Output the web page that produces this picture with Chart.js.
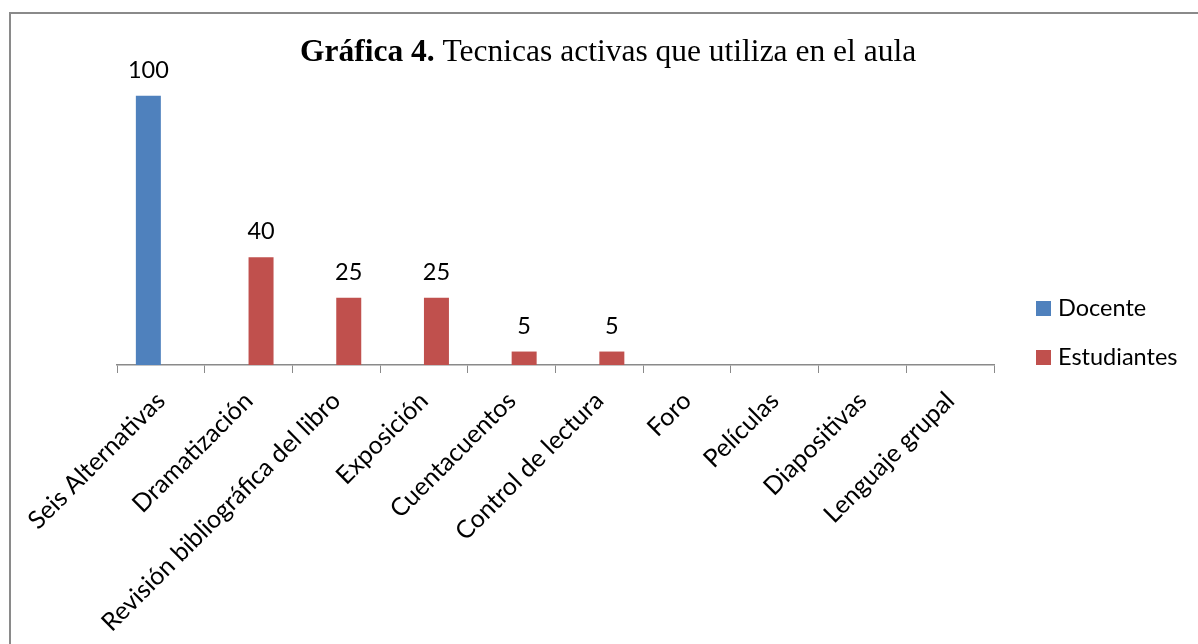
<!DOCTYPE html>
<html>
<head>
<meta charset="utf-8">
<script src="https://cdn.jsdelivr.net/npm/chart.js@4/dist/chart.umd.min.js"></script>
<style>
	html, body { margin:0; padding:0; background:#fff; overflow:hidden; }
	#wrap { position:relative; width:1198px; height:644px; }
	#marco { position:absolute; left:9px; top:12px; width:1300px; height:800px; border:2px solid #8a8a8a; pointer-events:none; }
</style>
</head>
<body>
<div id="wrap">
	<canvas id="chart" width="1198" height="644"></canvas>
	<div id="marco"></div>
</div>
<script>
var categorias = ['Seis Alternativas', 'Dramatización', 'Revisión bibliográfica del libro', 'Exposición', 'Cuentacuentos', 'Control de lectura', 'Foro', 'Películas', 'Diapositivas', 'Lenguaje grupal'];
var docente = [100, null, null, null, null, null, null, null, null, null];
var estudiantes = [null, 40, 25, 25, 5, 5, null, null, null, null];
var series = ['Docente', 'Estudiantes'];
var colores = ['#4F81BD', '#C0504D'];

var fuente = 'Lato, "Open Sans", sans-serif';

//etiquetas de valor, titulo y leyenda
var extras = {
	id: 'extras',
	afterDatasetsDraw: function (chart) {
		var ctx = chart.ctx;
		ctx.save();
		ctx.fillStyle = '#000';
		ctx.font = '23.5px ' + fuente;
		ctx.textAlign = 'center';
		ctx.textBaseline = 'alphabetic';
		chart.data.datasets.forEach(function (ds, i) {
			var meta = chart.getDatasetMeta(i);
			meta.data.forEach(function (el, j) {
				if (ds.data[j] === null) return;
				ctx.fillText(ds.data[j], el.x, el.y - 18);
			});
		});

		//titulo
		ctx.textAlign = 'left';
		ctx.font = 'bold 31.5px "Liberation Serif", "Times New Roman", serif';
		var parte1 = 'Gráfica 4.';
		ctx.fillText(parte1, 300, 61);
		var w = ctx.measureText(parte1 + ' ').width;
		ctx.font = '31.5px "Liberation Serif", "Times New Roman", serif';
		ctx.fillText('Tecnicas activas que utiliza en el aula', 300 + w, 61);

		//leyenda
		ctx.font = '23.5px ' + fuente;
		chart.data.datasets.forEach(function (ds, i) {
			var y = 316 + i * 49;
			ctx.fillStyle = ds.backgroundColor;
			ctx.fillRect(1036, y - 15, 15, 15);
			ctx.fillStyle = '#000';
			ctx.fillText(ds.label, 1058, y);
		});
		ctx.restore();
	}
};

var chart = document.getElementById('chart');
new Chart(chart, {
	type: 'bar',
	data: {
		labels: categorias,
		datasets: [
			{ label: series[0], data: docente, backgroundColor: colores[0], barPercentage: 1, categoryPercentage: 0.57 },
			{ label: series[1], data: estudiantes, backgroundColor: colores[1], barPercentage: 1, categoryPercentage: 0.57 }
		]
	},
	options: {
		responsive: false,
		animation: false,
		layout: { padding: { left: 117, right: 204, top: 42, bottom: 0 } },
		plugins: {
			legend: { display: false },
			title: { display: false },
			tooltip: { enabled: false }
		},
		scales: {
			x: {
				grid: { display: true, drawOnChartArea: false, drawTicks: true, tickLength: 8, color: '#8a8a8a', offset: true },
				border: { display: true, color: '#8a8a8a', width: 1.5 },
				ticks: { autoSkip: false, maxRotation: 45, minRotation: 45, padding: 13, color: '#000', font: { family: fuente, size: 25 } },
				afterFit: function (axis) { axis.height = 279; }
			},
			y: {
				display: false,
				min: 0,
				max: 120
			}
		}
	},
	plugins: [extras]
});
</script>
</body>
</html>
